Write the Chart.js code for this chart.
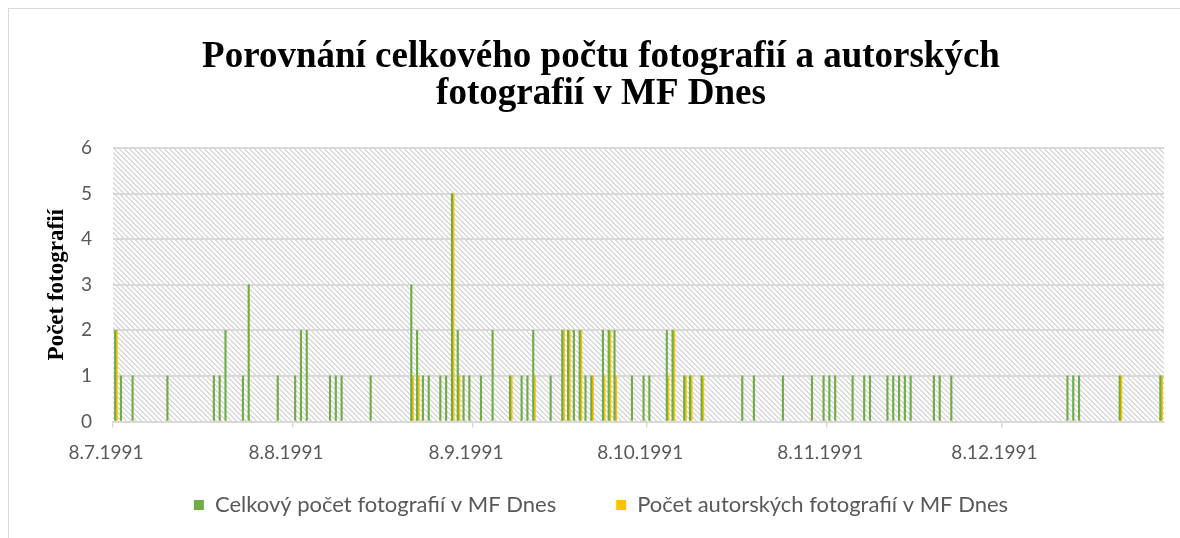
<!DOCTYPE html>
<html><head><meta charset="utf-8">
<script src="https://cdn.jsdelivr.net/npm/chart.js@4/dist/chart.umd.min.js"></script>
<style>
html,body{margin:0;padding:0;background:#fff;}
#wrap{position:relative;width:1180px;height:538px;overflow:hidden;}
#frame{position:absolute;left:8px;top:8px;width:1200px;height:560px;border:1px solid #d9d9d9;box-sizing:border-box;}
canvas{position:absolute;left:0;top:0;}
</style></head><body>
<div id="wrap"><div id="frame"></div><canvas id="c" width="1180" height="538"></canvas></div>
<script>
const dates = ['8.7.1991','9.7.1991','11.7.1991','17.7.1991','25.7.1991','26.7.1991','27.7.1991','30.7.1991','31.7.1991','5.8.1991',
'8.8.1991','9.8.1991','10.8.1991','14.8.1991','15.8.1991','16.8.1991','21.8.1991','28.8.1991','29.8.1991','30.8.1991',
'31.8.1991','2.9.1991','3.9.1991','4.9.1991','5.9.1991','6.9.1991','7.9.1991','9.9.1991','11.9.1991','14.9.1991',
'16.9.1991','17.9.1991','18.9.1991','21.9.1991','23.9.1991','24.9.1991','25.9.1991','26.9.1991','27.9.1991','28.9.1991',
'30.9.1991','1.10.1991','2.10.1991','5.10.1991','7.10.1991','8.10.1991','11.10.1991','12.10.1991','14.10.1991','15.10.1991',
'17.10.1991','24.10.1991','26.10.1991','31.10.1991','5.11.1991','7.11.1991','8.11.1991','9.11.1991','12.11.1991','14.11.1991',
'15.11.1991','18.11.1991','19.11.1991','20.11.1991','21.11.1991','22.11.1991','26.11.1991','27.11.1991','29.11.1991','19.12.1991',
'20.12.1991','21.12.1991','28.12.1991','4.1.1992'];
const totalPhotos = [2,1,1,1,1,1,2,1,3,1, 1,2,2,1,1,1,1,3,2,1, 1,1,1,5,2,1,1,1,2,1, 1,1,2,1,2,2,2,2,1,1, 2,2,2,1,1,1,2,2,1,1, 1,1,1,1,1,1,1,1,1,1, 1,1,1,1,1,1,1,1,1,1, 1,1,1,1];
const authorPhotos = [2,0,0,0,0,0,0,0,0,0, 0,0,0,0,0,0,0,1,1,0, 0,0,0,5,1,0,0,0,0,1, 0,0,1,0,2,2,0,2,0,1, 1,2,1,0,0,0,1,2,1,1, 1,0,0,0,0,0,0,0,0,0, 0,0,0,0,0,0,0,0,0,0, 0,0,1,1];
const xTickLabels = ['8.7.1991','8.8.1991','8.9.1991','8.10.1991','8.11.1991','8.12.1991'];
const axisStart = '8.7.1991';
const axisEnd = '5.1.1992';
const seriesNames = ['Celkový počet fotografií v MF Dnes','Počet autorských fotografií v MF Dnes'];

const toUTC = s => { const [d,m,y] = s.split('.').map(Number); return Date.UTC(y, m-1, d); };
const dayOf = s => Math.round((toUTC(s) - toUTC(axisStart)) / 86400000);
const tickDays = xTickLabels.map(dayOf);
const labelByDay = {}; xTickLabels.forEach((l,i)=>{ labelByDay[tickDays[i]] = l; });
const pts = vals => dates.map((d,i)=>({x: dayOf(d) + 0.5, y: vals[i]}));

const hatch = { id:'hatch', beforeDraw(chart){
  const {ctx, chartArea:a} = chart;
  const s = 5, t = document.createElement('canvas'); t.width = t.height = s;
  const c = t.getContext('2d'); c.fillStyle = '#ffffff'; c.fillRect(0,0,s,s);
  c.fillStyle = '#dadada';
  for (let i=0;i<s;i++){ c.fillRect(i,i,1,1); c.fillRect((i+1)%s,i,1,1); }
  ctx.save(); ctx.fillStyle = ctx.createPattern(t,'repeat');
  ctx.fillRect(a.left, a.top, a.right-a.left, a.bottom-a.top); ctx.restore();
}};

const sans = 'Lato, "Open Sans", sans-serif';
const serif = '"Liberation Serif", "Times New Roman", serif';
new Chart(document.getElementById('c'), {
  type:'bar',
  data:{ datasets:[
    {label:seriesNames[0], data:pts(totalPhotos), backgroundColor:'#70AD47', barThickness:1.5},
    {label:seriesNames[1], data:pts(authorPhotos), backgroundColor:'#FFC000', barThickness:1.5}
  ]},
  plugins:[hatch],
  options:{
    responsive:false, animation:false,
    layout:{padding:{left:38,right:16,top:0,bottom:12}},
    plugins:{
      title:{display:true, text:['Porovnání celkového počtu fotografií a autorských','fotografií v MF Dnes'],
        font:{family:serif, size:37, weight:'bold', lineHeight:1.0}, color:'#000', padding:{top:39,bottom:35}},
      legend:{position:'bottom', labels:{boxWidth:10, boxHeight:10, padding:60, color:'#595959', font:{family:sans, size:22}}},
      tooltip:{enabled:false}
    },
    scales:{
      x:{type:'linear', min:dayOf(axisStart), max:dayOf(axisEnd), offset:false,
        grid:{display:true, offset:false, drawOnChartArea:false, drawTicks:true, tickLength:6, color:'#d9d9d9', lineWidth:1.5},
        border:{display:true, color:'#d9d9d9', width:2},
        afterBuildTicks: ax => { ax.ticks = tickDays.map(v=>({value:v})); },
        afterFit: s => { s.height = 12.5; },
        ticks:{callback: v => labelByDay[v] ?? '', color:'#595959', font:{family:sans,size:19, lineHeight:1.2}, labelOffset:-7, mirror:true, padding:-42.5, autoSkip:false, maxRotation:0}
      },
      y:{min:0, max:6,
        ticks:{stepSize:1, color:'#595959', font:{family:sans,size:19}, padding:21},
        grid:{color:'#d9d9d9', lineWidth:2, drawTicks:false},
        border:{display:false},
        title:{display:true, text:'Počet fotografií', color:'#000', font:{family:serif, size:23, weight:'bold', lineHeight:1.2}, padding:{top:5,bottom:0}},
        afterFit: s => { s.width = 75; }
      }
    }
  }
});
</script>
</body></html>
